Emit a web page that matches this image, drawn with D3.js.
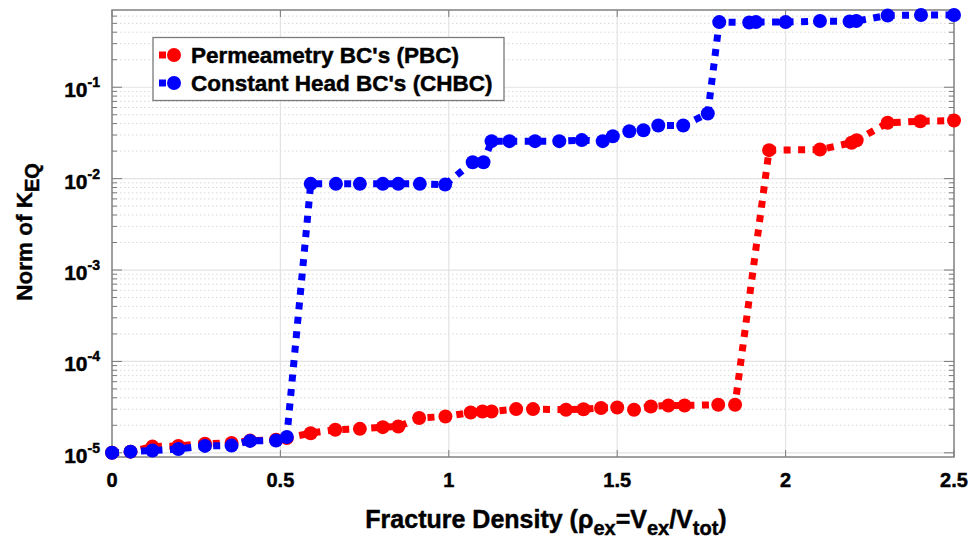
<!DOCTYPE html>
<html><head><meta charset="utf-8">
<script src="https://cdn.jsdelivr.net/npm/d3@7"></script>
<style>body{margin:0;background:#fff}svg{display:block;font-family:"Liberation Sans",Arial,sans-serif;font-weight:bold}
text{stroke:#000;stroke-width:0.45px}</style>
</head><body>
<svg id="c" width="968" height="544"></svg>
<script>
const xTicks = [0, 0.5, 1, 1.5, 2, 2.5];
const xTickLabels = ["0", "0.5", "1", "1.5", "2", "2.5"];
const yDecades = [1e-5, 1e-4, 1e-3, 1e-2, 1e-1];
const yTickExps = ["-5", "-4", "-3", "-2", "-1"];
const seriesNames = ["Permeametry BC's (PBC)", "Constant Head BC's (CHBC)"];
const seriesColors = ["#ff0000", "#0000ff"];

const pbcX = [0, 0.055, 0.12, 0.197, 0.276, 0.355, 0.41, 0.487, 0.519, 0.59, 0.663, 0.736, 0.804, 0.85, 0.912, 0.99, 1.065, 1.10, 1.127, 1.20, 1.25, 1.348, 1.40, 1.452, 1.50, 1.55, 1.60, 1.652, 1.70, 1.80, 1.85, 1.951, 2.102, 2.196, 2.211, 2.303, 2.40, 2.50];
const pbcY = [1e-5, 1.03e-5, 1.17e-5, 1.19e-5, 1.26e-5, 1.28e-5, 1.36e-5, 1.39e-5, 1.45e-5, 1.64e-5, 1.79e-5, 1.83e-5, 1.91e-5, 1.94e-5, 2.4e-5, 2.5e-5, 2.76e-5, 2.83e-5, 2.83e-5, 3.01e-5, 3.01e-5, 2.96e-5, 3.0e-5, 3.09e-5, 3.13e-5, 2.96e-5, 3.21e-5, 3.3e-5, 3.3e-5, 3.36e-5, 3.36e-5, 0.0205, 0.0208, 0.0247, 0.0263, 0.0408, 0.0425, 0.0432];

const chbcX = [0, 0.055, 0.12, 0.197, 0.276, 0.355, 0.41, 0.487, 0.519, 0.59, 0.665, 0.736, 0.804, 0.85, 0.914, 0.989, 1.071, 1.103, 1.127, 1.18, 1.256, 1.328, 1.395, 1.457, 1.487, 1.536, 1.578, 1.622, 1.696, 1.769, 1.803, 1.892, 1.912, 2.0, 2.102, 2.19, 2.21, 2.303, 2.402, 2.50];
const chbcY = [1e-5, 1.03e-5, 1.06e-5, 1.1e-5, 1.19e-5, 1.2e-5, 1.35e-5, 1.36e-5, 1.49e-5, 0.00877, 0.00877, 0.00877, 0.00877, 0.00877, 0.00877, 0.0086, 0.0151, 0.0151, 0.0257, 0.0257, 0.0257, 0.0257, 0.0264, 0.0257, 0.0291, 0.033, 0.0338, 0.0382, 0.0382, 0.0516, 0.516, 0.51, 0.516, 0.516, 0.53, 0.525, 0.53, 0.61, 0.616, 0.616];

const L = 112, R = 954, T = 10, B = 457;
const x = d3.scaleLinear().domain([0, 2.5]).range([L, R]);
const y = d3.scaleLog().domain([9e-6, 0.7]).range([B, T]);
const svg = d3.select("#c");

// grid
const g = svg.append("g");
const minors = [];
for (let e = -6; e <= 0; e++) for (let m = 2; m <= 9; m++) { const v = m * Math.pow(10, e); if (v > 9e-6 && v < 0.7) minors.push(v); }
g.selectAll(".ym").data(minors).join("line").attr("x1", L).attr("x2", R).attr("y1", d => y(d)).attr("y2", d => y(d))
  .attr("stroke", "#d9d9d9").attr("stroke-width", 1).attr("stroke-dasharray", "1.5,2.5");
g.selectAll(".yM").data(yDecades).join("line").attr("x1", L).attr("x2", R).attr("y1", d => y(d)).attr("y2", d => y(d))
  .attr("stroke", "#e3e3e3").attr("stroke-width", 1.2);
g.selectAll(".xg").data(xTicks.slice(1, -1)).join("line").attr("y1", T).attr("y2", B).attr("x1", d => x(d)).attr("x2", d => x(d))
  .attr("stroke", "#e3e3e3").attr("stroke-width", 1.2);

// ticks
const tk = svg.append("g").attr("stroke", "#7a7a7a").attr("stroke-width", 1);
tk.selectAll(".xt").data(xTicks).join("line").attr("x1", d => x(d)).attr("x2", d => x(d)).attr("y1", B).attr("y2", B - 7);
tk.selectAll(".xt2").data(xTicks).join("line").attr("x1", d => x(d)).attr("x2", d => x(d)).attr("y1", T).attr("y2", T + 7);
[L, R].forEach((px, i) => {
  const dir = i === 0 ? 1 : -1;
  tk.selectAll(".ytM" + i).data(yDecades).join("line").attr("x1", px).attr("x2", px + dir * 10).attr("y1", d => y(d)).attr("y2", d => y(d));
  tk.selectAll(".ytm" + i).data(minors).join("line").attr("x1", px).attr("x2", px + dir * 5).attr("y1", d => y(d)).attr("y2", d => y(d));
});
svg.append("rect").attr("x", L).attr("y", T).attr("width", R - L).attr("height", B - T)
  .attr("fill", "none").attr("stroke", "#808080").attr("stroke-width", 1.5);

// series
const plotG = svg.append("g");
const line = d3.line().x(d => x(d[0])).y(d => y(d[1]));
[[pbcX, pbcY], [chbcX, chbcY]].forEach(([xs, ys], i) => {
  const pts = xs.map((v, j) => [v, ys[j]]);
  plotG.append("path").datum(pts).attr("d", line).attr("fill", "none")
    .attr("stroke", seriesColors[i]).attr("stroke-width", 7).attr("stroke-dasharray", "7,7.5");
  plotG.selectAll(".p" + i).data(pts).join("circle").attr("cx", d => x(d[0])).attr("cy", d => y(d[1])).attr("r", 7)
    .attr("fill", seriesColors[i]);
});

// tick labels
svg.selectAll(".xl").data(xTicks).join("text").attr("x", d => x(d)).attr("y", 487).attr("text-anchor", "middle")
  .attr("font-size", 20).attr("fill", "#000").text((d, i) => xTickLabels[i]);
yDecades.forEach((d, i) => {
  const t = svg.append("text").attr("x", 100).attr("y", y(d) + 10).attr("text-anchor", "end").attr("fill", "#000").attr("font-size", 21);
  t.append("tspan").text("10");
  t.append("tspan").attr("font-size", 14).attr("dy", -10).text(yTickExps[i]);
});

// axis titles
const xt = svg.append("text").attr("x", 546).attr("y", 528).attr("text-anchor", "middle").attr("font-size", 25).attr("fill", "#000");
xt.append("tspan").text("Fracture Density (\u03c1");
xt.append("tspan").attr("font-size", 20).attr("dy", 7).text("ex");
xt.append("tspan").attr("dy", -7).text("=V");
xt.append("tspan").attr("font-size", 20).attr("dy", 7).text("ex");
xt.append("tspan").attr("dy", -7).text("/V");
xt.append("tspan").attr("font-size", 20).attr("dy", 7).text("tot");
xt.append("tspan").attr("dy", -7).text(")");

const yt = svg.append("text").attr("transform", "translate(32,232) rotate(-90)").attr("text-anchor", "middle").attr("font-size", 22.5).attr("fill", "#000");
yt.append("tspan").text("Norm of K");
yt.append("tspan").attr("font-size", 20).attr("dy", 7).text("EQ");

// legend
const lg = svg.append("g");
lg.append("rect").attr("x", 153).attr("y", 37.5).attr("width", 351).attr("height", 63).attr("fill", "#fff").attr("stroke", "#7a7a7a").attr("stroke-width", 1.3);
seriesNames.forEach((n, i) => {
  const cy = 55 + i * 28;
  lg.append("line").attr("x1", 159).attr("x2", 173).attr("y1", cy).attr("y2", cy).attr("stroke", seriesColors[i]).attr("stroke-width", 7).attr("stroke-dasharray", "7,7.5");
  lg.append("circle").attr("cx", 174).attr("cy", cy).attr("r", 7).attr("fill", seriesColors[i]);
  lg.append("text").attr("x", 191).attr("y", cy + 8).attr("font-size", 22.5).attr("fill", "#000").text(n);
});
</script>
</body></html>
